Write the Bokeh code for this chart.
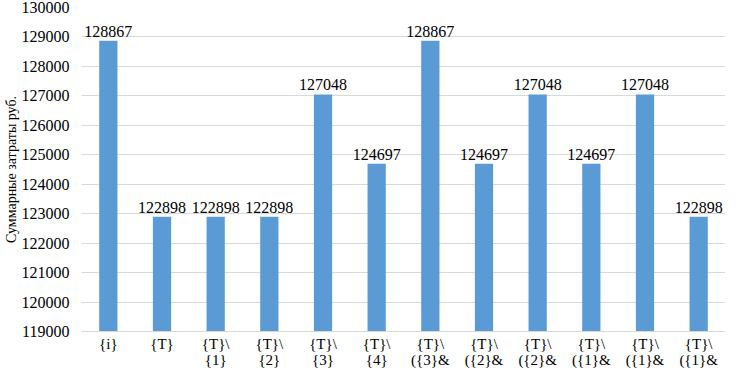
from bokeh.plotting import figure
from bokeh.models import ColumnDataSource, Range1d, FixedTicker, SingleIntervalTicker, PrintfTickFormatter
from bokeh.core.properties import value
from bokeh.embed import file_html
from bokeh.resources import INLINE

categories = ["{i}", "{T}", "{T}\\\n{1}", "{T}\\\n{2}", "{T}\\\n{3}", "{T}\\\n{4}",
              "{T}\\\n({3}&", "{T}\\\n({2}&", "{T}\\\n({2}&", "{T}\\\n({1}&",
              "{T}\\\n({1}&", "{T}\\\n({1}&"]
costs = [128867, 122898, 122898, 122898, 127048, 124697,
         128867, 124697, 127048, 124697, 127048, 122898]
y_min, y_max, y_step = 119000, 130000, 1000
y_title = "Суммарные затраты руб."

FONT = "Liberation Serif"
idx = list(range(len(categories)))
src = ColumnDataSource(dict(x=idx, top=costs, lbl=[str(v) for v in costs]))

p = figure(width=725, height=371, output_backend="svg", toolbar_location=None,
           x_range=Range1d(-0.5, len(categories) - 0.5),
           y_range=Range1d(y_min, y_max))
p.min_border_top = 7
p.min_border_right = 0
p.min_border_left = 0
p.min_border_bottom = 0
p.outline_line_color = None
p.background_fill_color = "white"
p.border_fill_color = "white"

p.vbar(x="x", top="top", bottom=y_min, width=0.34, source=src,
       fill_color="#5b9bd5", line_color=None)
p.text(x="x", y="top", text="lbl", source=src, text_align="center",
       text_baseline="bottom", y_offset=-4, text_font=value(FONT),
       text_font_size="16px", text_color="#000000")

# x axis
p.xaxis.ticker = FixedTicker(ticks=idx)
p.xaxis.major_label_overrides = {i: c for i, c in zip(idx, categories)}
p.xaxis.major_tick_line_color = None
p.xaxis.minor_tick_line_color = None
p.xaxis.major_tick_out = 0
p.xaxis.major_tick_in = 0
p.xaxis.minor_tick_out = 0
p.xaxis.axis_line_color = "#d9d9d9"
p.xaxis.major_label_text_font = FONT
p.xaxis.major_label_text_font_size = "15px"
p.xaxis.major_label_text_line_height = 1.05
p.xaxis.major_label_text_color = "#000000"
p.xaxis.major_label_standoff = 4
p.xgrid.grid_line_color = None

# y axis
p.yaxis.ticker = SingleIntervalTicker(interval=y_step)
p.yaxis.formatter = PrintfTickFormatter(format="%d")
p.yaxis.major_tick_line_color = None
p.yaxis.minor_tick_line_color = None
p.yaxis.major_tick_out = 0
p.yaxis.major_tick_in = 0
p.yaxis.minor_tick_out = 0
p.yaxis.axis_line_color = None
p.yaxis.major_label_text_font = FONT
p.yaxis.major_label_text_font_size = "16px"
p.yaxis.major_label_text_color = "#000000"
p.yaxis.major_label_standoff = 12
p.yaxis.axis_label = y_title
p.yaxis.axis_label_text_font = FONT
p.yaxis.axis_label_text_font_size = "14px"
p.yaxis.axis_label_text_font_style = "normal"
p.yaxis.axis_label_text_color = "#000000"
p.yaxis.axis_label_standoff = 0
p.ygrid.grid_line_color = "#d9d9d9"

open("out.html", "w").write(file_html(p, INLINE))
